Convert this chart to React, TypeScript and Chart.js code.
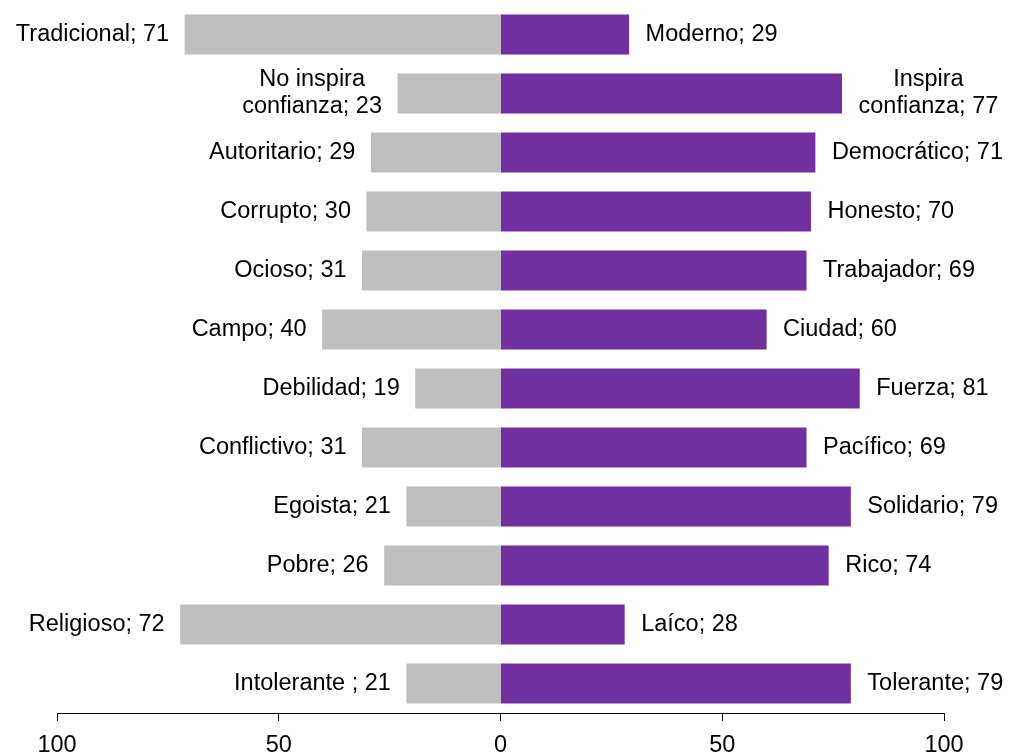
import React, { useEffect, useRef } from "react";
import { Chart, registerables } from "chart.js";

Chart.register(...registerables);

const leftTerms = [
  "Tradicional",
  "No inspira\nconfianza",
  "Autoritario",
  "Corrupto",
  "Ocioso",
  "Campo",
  "Debilidad",
  "Conflictivo",
  "Egoista",
  "Pobre",
  "Religioso",
  "Intolerante ",
];
const rightTerms = [
  "Moderno",
  "Inspira\nconfianza",
  "Democrático",
  "Honesto",
  "Trabajador",
  "Ciudad",
  "Fuerza",
  "Pacífico",
  "Solidario",
  "Rico",
  "Laíco",
  "Tolerante",
];
const leftValues = [71, 23, 29, 30, 31, 40, 19, 31, 21, 26, 72, 21];
const rightValues = [29, 77, 71, 70, 69, 60, 81, 69, 79, 74, 28, 79];
const xTicks = [-100, -50, 0, 50, 100];

const FONT = "'Liberation Sans', Arial, Helvetica, sans-serif";

const labelPlugin = {
  id: "sideLabels",
  afterDatasetsDraw(chart: any) {
    const ctx = chart.ctx;
    ctx.save();
    ctx.font = `23.5px ${FONT}`;
    ctx.fillStyle = "#000000";
    ctx.textBaseline = "middle";
    const lineH = 27;
    const gap = 16.5;
    const drawSide = (dsIndex: number, terms: string[], values: number[], side: number) => {
      const meta = chart.getDatasetMeta(dsIndex);
      meta.data.forEach((bar: any, i: number) => {
        const lines = `${terms[i]}; ${values[i]}`.split("\n");
        const y0 = bar.y - ((lines.length - 1) * lineH) / 2;
        if (lines.length === 1) {
          ctx.textAlign = side < 0 ? "right" : "left";
          ctx.fillText(lines[0], bar.x + side * gap, bar.y);
        } else {
          const maxW = Math.max(...lines.map((l) => ctx.measureText(l).width));
          const cx = bar.x + side * (gap + maxW / 2);
          ctx.textAlign = "center";
          lines.forEach((l, k) => ctx.fillText(l, cx, y0 + k * lineH));
        }
      });
    };
    drawSide(0, leftTerms, leftValues, -1);
    drawSide(1, rightTerms, rightValues, 1);
    ctx.restore();
  },
};

export default function App() {
  const ref = useRef<HTMLCanvasElement | null>(null);
  useEffect(() => {
    document.body.style.margin = "0";
    const chart = new Chart(ref.current as HTMLCanvasElement, {
      type: "bar",
      data: {
        labels: leftTerms.map((t, i) => `${t} / ${rightTerms[i]}`),
        datasets: [
          {
            data: leftValues.map((v) => -v),
            backgroundColor: "#BFBFBF",
            borderWidth: 0,
            inflateAmount: 1,
            barPercentage: 0.645,
            categoryPercentage: 1,
          },
          {
            data: rightValues,
            backgroundColor: "#7030A0",
            borderWidth: 0,
            barPercentage: 0.68,
            categoryPercentage: 1,
          },
        ],
      },
      options: {
        indexAxis: "y",
        responsive: false,
        animation: false,
        layout: { padding: { left: 57, right: 66, top: 5, bottom: 0 } },
        plugins: { legend: { display: false }, tooltip: { enabled: false } },
        scales: {
          x: {
            stacked: true,
            min: -100,
            max: 100,
            afterBuildTicks: (scale: any) => {
              scale.ticks = xTicks.map((v) => ({ value: v }));
            },
            afterFit: (scale: any) => {
              scale.height = 41;
            },
            ticks: {
              callback: (v: any) => String(Math.abs(Number(v))),
              color: "#000000",
              font: { family: FONT, size: 23.5 },
              padding: 10,
              maxRotation: 0,
              autoSkip: false,
            },
            grid: {
              drawOnChartArea: false,
              drawTicks: true,
              tickLength: 8,
              color: "#000000",
              lineWidth: 1,
            },
            border: { display: true, color: "#000000", width: 1 },
          },
          y: {
            stacked: true,
            display: false,
          },
        },
      },
      plugins: [labelPlugin],
    } as any);
    return () => chart.destroy();
  }, []);
  return (
    <div style={{ position: "absolute", left: 0, top: 0, width: 1010, height: 754 }}>
      <canvas ref={ref} width={1010} height={754} style={{ width: 1010, height: 754 }} />
    </div>
  );
}
